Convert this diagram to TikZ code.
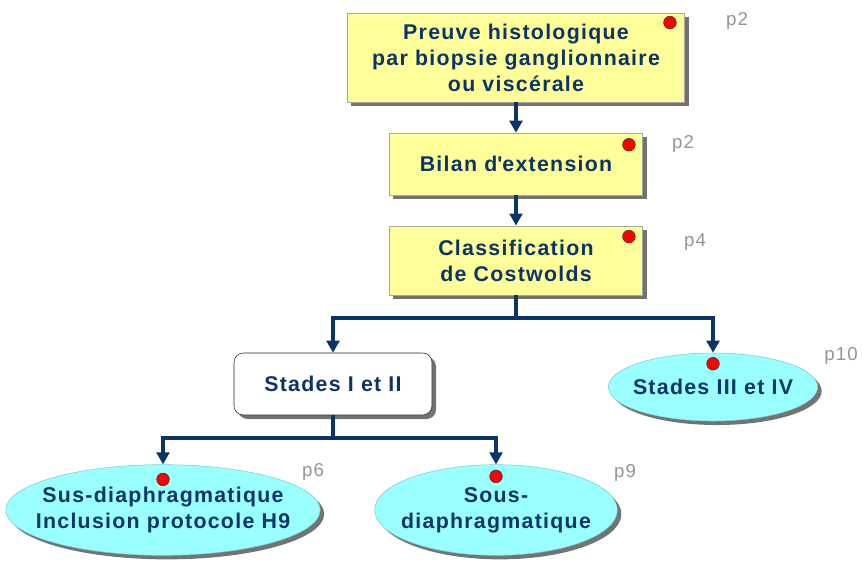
\documentclass[tikz,border=0pt]{standalone}
\usepackage{fontspec}
\setmainfont{Liberation Sans}[LetterSpace=6]
\usetikzlibrary{positioning,shapes.geometric,arrows.meta,shadows}
\definecolor{encre}{HTML}{0B3468}
\definecolor{jaune}{HTML}{FFFF99}
\definecolor{ciel}{HTML}{99FFFF}
\tikzset{
    >={Triangle[length=9pt, width=9.5pt]},
    ombre/.style = {drop shadow={shadow xshift=3pt, shadow yshift=-3pt, fill=black!55, opacity=1}},
    etape/.style = {draw=black!35, fill=jaune, ombre, text=encre, align=center, inner sep=0pt,
                    font=\bfseries\fontsize{16}{19.5}\selectfont},
    stade/.style = {etape, ellipse, draw=ciel!80!black, fill=ciel, inner xsep=-12pt},
    pastille/.style = {circle, draw=black!80, fill=red, minimum size=9.5pt, inner sep=0pt},
    page/.style = {text=black!42, font=\fontsize{14}{16}\selectfont},
    fleche/.style = {->, draw=encre, line width=2.6pt},
}
\begin{document}
\begin{tikzpicture}[x=0.75pt, y=-0.75pt]
\useasboundingbox (0,0) rectangle (862,562);

% cadres
\node (preuve) [etape, minimum width=253pt, minimum height=67pt] at (516,57.5)
    {Preuve histologique\\par biopsie ganglionnaire\\ou viscérale};
\node (bilan) [etape, minimum width=190pt, minimum height=46.5pt] at (516,164) {Bilan d\textquotesingle extension};
\node (classif) [etape, minimum width=190pt, minimum height=52pt] at (516,260.5) {Classification\\de Costwolds};
\node (stades12) [etape, fill=white, draw=black!85, rounded corners=7pt,
    minimum width=148.5pt, minimum height=46.5pt] at (333,384) {Stades I et II};
\node (stades34) [stade, minimum width=157pt, minimum height=51pt] at (713,387) {Stades III et IV};
\node (sus) [stade, minimum width=231pt, minimum height=68pt] at (163,510)
    {Sus-diaphragmatique\\Inclusion protocole H9};
\node (sous) [stade, minimum width=182pt, minimum height=68pt] at (496,510) {Sous-\\diaphragmatique};

% pastilles
\node (dpreuve) [pastille] at ([shift={(-15,10)}]preuve.north east) {};
\node (dbilan) [pastille] at ([shift={(-14,12)}]bilan.north east) {};
\node (dclassif) [pastille] at ([shift={(-14,11)}]classif.north east) {};
\node (dstades34) [pastille] at ([shift={(0,11)}]stades34.north) {};
\node (dsus) [pastille] at ([shift={(0,15)}]sus.north) {};
\node (dsous) [pastille] at ([shift={(0,12)}]sous.north) {};

% pages
\node (ppreuve) [page] at (737,21) {p2};
\node (pbilan) [page] at (683,144) {p2};
\node (pclassif) [page] at (695,242) {p4};
\node (pstades34) [page] at (841,356) {p10};
\node (psus) [page] at (313,472) {p6};
\node (psous) [page] at (625,473) {p9};

% liaisons
\coordinate (fourche1) at (516,318);
\coordinate (fourche2) at (333,438);
\draw [fleche] (preuve) -- (bilan);
\draw [fleche] (bilan) -- (classif);
\draw [fleche] (classif) -- (fourche1) -| (stades12);
\draw [fleche] (fourche1) -| (stades34);
\draw [fleche] (stades12) -- (fourche2) -| (sus);
\draw [fleche] (fourche2) -| (sous);
\end{tikzpicture}
\end{document}
